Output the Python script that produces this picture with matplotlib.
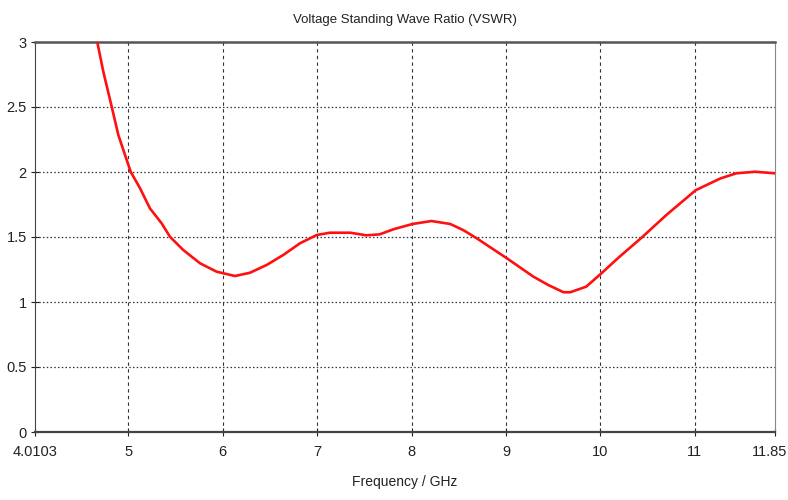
import matplotlib
matplotlib.use('Agg')
import matplotlib.pyplot as plt
import matplotlib.transforms as mtransforms

plt.rcParams['font.family'] = ['Liberation Sans', 'DejaVu Sans']

# values
freq = [4.670, 4.734, 4.823, 4.893, 4.964, 5.024, 5.123, 5.228, 5.352, 5.440,
        5.581, 5.758, 5.935, 6.129, 6.288, 6.465, 6.641, 6.818, 6.994, 7.135,
        7.35, 7.52, 7.66, 7.81, 8.01, 8.21, 8.41, 8.55, 8.69, 9.01, 9.29,
        9.45, 9.61, 9.68, 9.85, 10.01, 10.19, 10.44, 10.70, 11.01, 11.27,
        11.44, 11.64, 11.85]
vswr = [3.00, 2.772, 2.502, 2.285, 2.131, 2.002, 1.875, 1.720, 1.605, 1.502,
        1.400, 1.298, 1.233, 1.200, 1.225, 1.285, 1.362, 1.452, 1.515, 1.533,
        1.533, 1.513, 1.520, 1.560, 1.600, 1.623, 1.600, 1.552, 1.490, 1.336, 1.195,
        1.13, 1.075, 1.075, 1.118, 1.220, 1.340, 1.497, 1.670, 1.860, 1.950,
        1.990, 2.002, 1.990]

x_ticks = [4.0103, 5, 6, 7, 8, 9, 10, 11, 11.85]
x_labels = ['4.0103', '5', '6', '7', '8', '9', '10', '11', '11.85']
y_ticks = [0, 0.5, 1, 1.5, 2, 2.5, 3]
y_labels = ['0', '0.5', '1', '1.5', '2', '2.5', '3']

fig = plt.figure(figsize=(7.88, 5.0), dpi=100)
ax = fig.add_axes([35 / 788, 68 / 500, 740 / 788, 390 / 500])

ax.plot(freq, vswr, color='#ff1010', lw=1.9, zorder=3,
        solid_joinstyle='round', solid_capstyle='round')

ax.set_xlim(x_ticks[0], x_ticks[-1])
ax.set_ylim(0, 3)
ax.set_xticks(x_ticks)
ax.set_xticklabels(x_labels)
ax.set_yticks(y_ticks)
ax.set_yticklabels(y_labels)
ax.tick_params(direction='inout', length=6, width=0.8, labelsize=10.5, colors='#222222')
ax.tick_params(axis='x', pad=6)
ax.tick_params(axis='y', pad=3)

# last x label sits at the figure edge, nudge it in a bit
last = ax.get_xticklabels()[-1]
last.set_transform(last.get_transform() +
                   mtransforms.ScaledTranslation(-5 / 100, 0, fig.dpi_scale_trans))

# grid: dashed verticals, dotted horizontals, interior only
for xv in x_ticks[1:-1]:
    ax.axvline(xv, color='#333333', lw=0.8, ls=(0, (3, 3)), zorder=1)
for yv in y_ticks[1:-1]:
    ax.axhline(yv, color='#333333', lw=0.9, ls=(0, (1.2, 1.8)), zorder=1)

ax.spines['top'].set_linewidth(1.8)
ax.spines['top'].set_color('#555555')
ax.spines['bottom'].set_linewidth(1.6)
ax.spines['bottom'].set_color('#444444')
ax.spines['left'].set_color('#444444')
ax.spines['right'].set_color('#888888')

ax.set_title('Voltage Standing Wave Ratio (VSWR)', fontsize=9.5, pad=14, color='#222222')
ax.set_xlabel('Frequency / GHz', fontsize=10, labelpad=12, color='#222222')

plt.savefig('out.png', dpi=100)
